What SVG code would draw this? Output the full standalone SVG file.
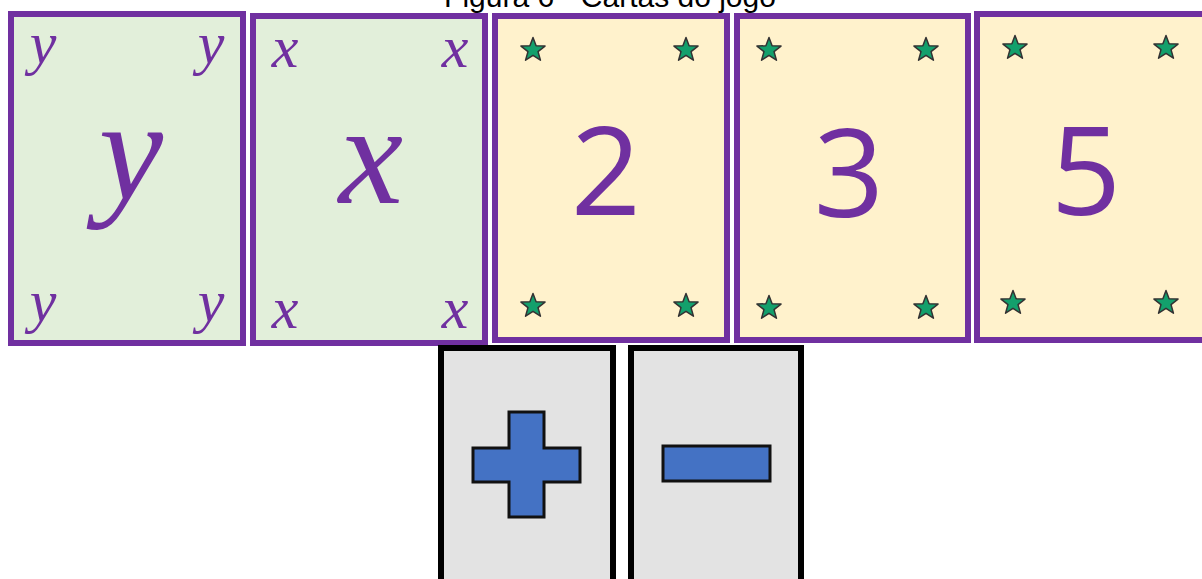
<svg xmlns="http://www.w3.org/2000/svg" width="1202" height="579" viewBox="0 0 1202 579">
<style>
.title{font-family:"Liberation Sans",Arial,sans-serif;font-size:30px;fill:#000}
.pc{stroke:#7030A0;stroke-width:6}
.green{fill:#E2EFDA}
.yellow{fill:#FFF2CC}
.gray{fill:#E3E3E3;stroke:#000;stroke-width:6}
.var{font-family:"Liberation Serif","Times New Roman",serif;font-style:italic;fill:#7030A0;text-anchor:middle}
.sm{font-size:60px}
.big{font-size:145px}
.num{font-family:"Open Sans","Noto Sans",sans-serif;font-size:123px;fill:#7030A0;text-anchor:middle}
.op{fill:#4472C4;stroke:#111;stroke-width:3}
.star{fill:#13A06C;stroke:#333;stroke-width:1.5;stroke-linejoin:round}
</style>
<defs>
<path id="star" d="M0,-12.6 L3.1,-4.28 L12.03,-3.91 L5.03,1.63 L7.44,10.24 L0,5.29 L-7.44,10.24 L-5.03,1.63 L-12.03,-3.91 L-3.1,-4.28 Z"/>
</defs>
<rect width="1202" height="579" fill="#fff"/>
<text class="title" x="610" y="7" text-anchor="middle">Figura 6 - Cartas do jogo</text>
<g id="card-y">
<rect class="green pc" x="11" y="14" width="232" height="329"/>
<text class="var sm" x="43" y="63">y</text>
<text class="var sm" x="211" y="63">y</text>
<text class="var sm" x="43" y="321">y</text>
<text class="var sm" x="211" y="321">y</text>
<text class="var big" x="131" y="199">y</text>
</g>
<g id="card-x">
<rect class="green pc" x="253" y="16" width="232" height="327"/>
<text class="var sm" x="285" y="67">x</text>
<text class="var sm" x="455" y="67">x</text>
<text class="var sm" x="285" y="328">x</text>
<text class="var sm" x="455" y="328">x</text>
<text class="var big" x="371" y="203">x</text>
</g>
<g id="card-2">
<rect class="yellow pc" x="495" y="16" width="232" height="324"/>
<use href="#star" class="star" x="533" y="50"/>
<use href="#star" class="star" x="686" y="50"/>
<use href="#star" class="star" x="533" y="306"/>
<use href="#star" class="star" x="686" y="306"/>
<text class="num" x="606" y="215">2</text>
</g>
<g id="card-3">
<rect class="yellow pc" x="737" y="16" width="231" height="324"/>
<use href="#star" class="star" x="769" y="50"/>
<use href="#star" class="star" x="926" y="50"/>
<use href="#star" class="star" x="769" y="308"/>
<use href="#star" class="star" x="926" y="308"/>
<text class="num" x="849" y="217">3</text>
</g>
<g id="card-5">
<rect class="yellow pc" x="977" y="14" width="240" height="326"/>
<use href="#star" class="star" x="1015" y="48"/>
<use href="#star" class="star" x="1166" y="48"/>
<use href="#star" class="star" x="1013" y="303"/>
<use href="#star" class="star" x="1166" y="303"/>
<text class="num" x="1086" y="215">5</text>
</g>
<g id="card-plus">
<rect class="gray" x="441" y="348" width="172" height="240"/>
<path class="op" d="M509,412 H544 V448 H580 V482 H544 V517 H509 V482 H473 V448 H509 Z"/>
</g>
<g id="card-minus">
<rect class="gray" x="631" y="348" width="170" height="240"/>
<rect class="op" x="663" y="446" width="107" height="35"/>
</g>
<g id="connectors"/>
</svg>
